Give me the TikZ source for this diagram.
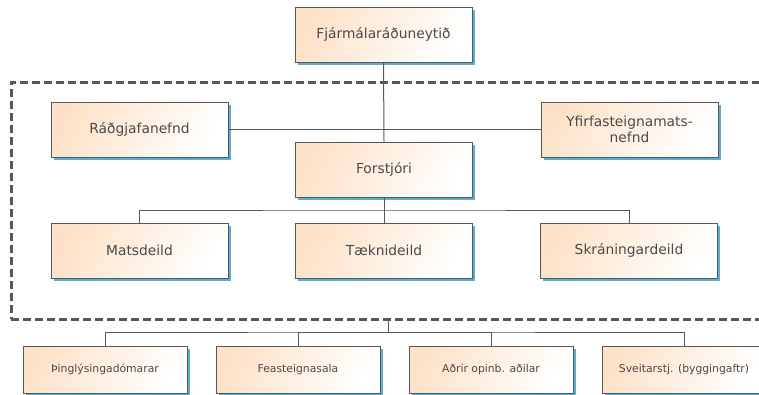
\documentclass[tikz,border=0pt]{standalone}
\usepackage{fontspec}
\setmainfont{DejaVu Sans}
\usetikzlibrary{shadows}
\definecolor{peach}{HTML}{FDE2C8}
\definecolor{boxline}{HTML}{585858}
\definecolor{txt}{HTML}{4A4A4A}
\definecolor{shadowblue}{HTML}{5AAFD0}
\tikzset{
  unit/.style={draw=boxline, line width=0.9pt, left color=peach, right color=white,
    shading angle=60,
    text=txt, align=center, minimum width=177pt, minimum height=55pt, inner sep=2pt,
    font=\fontsize{13.8}{16}\selectfont,
    drop shadow={shadow xshift=2.5pt, shadow yshift=-2.5pt, fill=shadowblue, opacity=1}},
  outside/.style={unit, minimum width=164pt, minimum height=47pt,
    font=\fontsize{10.8}{13}\selectfont},
  group/.style={draw=boxline, line width=3pt, dash pattern=on 8pt off 4pt,
    minimum width=754pt, minimum height=237pt, inner sep=0pt},
  link/.style={draw=boxline, line width=1pt}
}
\begin{document}
\begin{tikzpicture}[x=1pt,y=-1pt]
\clip (0,0) rectangle (759,394);
\fill[white] (0,0) rectangle (759,394);
% the group round the institution
\node[group] (grp) at (388,200.5) {};
\coordinate (fbar) at (384,210);
\coordinate (gbar) at (388,332);
\node[unit] (fjar) at (383.5,34.5) {Fjármálaráðuneytið};
\node[unit] (radg) at (139.5,129.5) {Ráðgjafanefnd};
\node[unit] (yfir) at (629.5,129.5) {Yfirfasteignamats-\\nefnd};
\node[unit] (forst) at (384,169.5) {Forstjóri};
\node[unit] (mats) at (139.5,250.5) {Matsdeild};
\node[unit] (taek) at (384,250.5) {Tæknideild};
\node[unit] (skra) at (629,250.5) {Skráningardeild};
\draw[link] (fjar.south) -- (forst.north);
\draw[link] (radg.east) -- (yfir.west);
\draw[link] (forst.south) -- (fbar);
\draw[link] (mats.north) |- (fbar) -| (skra.north);
\draw[link] (fbar) -- (taek.north);
% outside parties
\node[outside] (thing) at (105,369.5) {Þinglýsingadómarar};
\node[outside] (fast) at (298,369.5) {Feasteignasala};
\node[outside] (adrir) at (491,369.5) {Aðrir opinb. aðilar};
\node[outside] (sveit) at (684,369.5) {Sveitarstj. (byggingaftr)};
\draw[link] (grp.south) -- (gbar);
\draw[link] (thing.north) |- (gbar) -| (sveit.north);
\draw[link] (fast.north) |- (gbar);
\draw[link] (adrir.north) |- (gbar);
\end{tikzpicture}
\end{document}
